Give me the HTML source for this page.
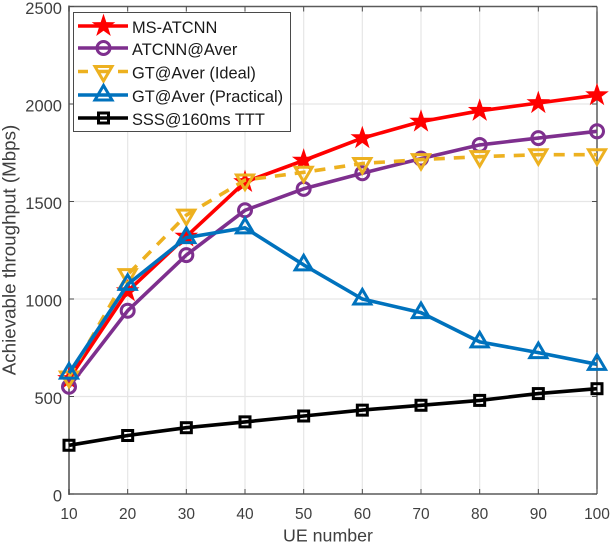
<!DOCTYPE html>
<html>
<head>
<meta charset="utf-8">
<style>
html,body{margin:0;padding:0;background:#fff;}
svg{display:block;}
text{font-family:"Liberation Sans",sans-serif;}
</style>
</head>
<body>
<svg id="chart" width="612" height="544" viewBox="0 0 612 544" xmlns="http://www.w3.org/2000/svg"></svg>
<script>
const categories = [10, 20, 30, 40, 50, 60, 70, 80, 90, 100];
const yTicks = [0, 500, 1000, 1500, 2000, 2500];
const msAtcnn = [590, 1040, 1320, 1600, 1710, 1825, 1910, 1965, 2005, 2045];
const atcnnAver = [550, 940, 1225, 1455, 1565, 1645, 1720, 1790, 1825, 1860];
const gtIdeal = [600, 1125, 1430, 1610, 1650, 1695, 1715, 1730, 1740, 1740];
const gtPractical = [620, 1075, 1315, 1365, 1175, 1000, 930, 780, 725, 665];
const sss = [250, 300, 340, 370, 400, 430, 455, 480, 515, 540];
const seriesNames = ['MS-ATCNN', 'ATCNN@Aver', 'GT@Aver (Ideal)', 'GT@Aver (Practical)', 'SSS@160ms TTT'];

const NS = 'http://www.w3.org/2000/svg';
const svg = document.getElementById('chart');
const L = 69, R = 597, T = 6.5, B = 494;
const xScale = v => L + (v - 10) / 90 * (R - L);
const yScale = v => B - v / 2500 * (B - T);

function mk(tag, attrs, parent) {
  const e = document.createElementNS(NS, tag);
  for (const k in attrs) e.setAttribute(k, attrs[k]);
  (parent || svg).appendChild(e);
  return e;
}

function drawMarker(kind, x, y, color, parent) {
  if (kind === 'star') {
    const pts = [];
    for (let i = 0; i < 10; i++) {
      const r = i % 2 ? 4.8 : 12.4;
      const a = -Math.PI / 2 + i * Math.PI / 5;
      pts.push((x + r * Math.cos(a)).toFixed(1) + ',' + (y + r * Math.sin(a)).toFixed(1));
    }
    return mk('polygon', {points: pts.join(' '), fill: color}, parent);
  }
  if (kind === 'circle') {
    return mk('circle', {cx: x, cy: y, r: 6.5, fill: 'none', stroke: color, 'stroke-width': 3}, parent);
  }
  if (kind === 'down') {
    return mk('polygon', {points: `${x-8.5},${y-5} ${x+8.5},${y-5} ${x},${y+9.5}`, fill: 'none', stroke: color, 'stroke-width': 3}, parent);
  }
  if (kind === 'up') {
    return mk('polygon', {points: `${x-8.5},${y+5} ${x+8.5},${y+5} ${x},${y-9.5}`, fill: 'none', stroke: color, 'stroke-width': 3}, parent);
  }
  return mk('rect', {x: x - 5, y: y - 5, width: 10, height: 10, fill: 'none', stroke: color, 'stroke-width': 3}, parent);
}

// grid
const gridGroup = mk('g', {});


categories.slice(1, -1).forEach(c => {
  mk('line', {x1: xScale(c), x2: xScale(c), y1: T, y2: B, stroke: '#e6e6e6', 'stroke-width': 1.2}, gridGroup);
});
yTicks.slice(1, -1).forEach(v => {
  mk('line', {x1: L, x2: R, y1: yScale(v), y2: yScale(v), stroke: '#e6e6e6', 'stroke-width': 1.2}, gridGroup);
});

// axes
const axesGroup = mk('g', {});


mk('line', {x1: L, x2: L, y1: T - 1, y2: B + 1, stroke: '#7a7a7a', 'stroke-width': 2}, axesGroup);
mk('line', {x1: L, x2: R, y1: B, y2: B, stroke: '#5a5a5a', 'stroke-width': 1.4}, axesGroup);
mk('line', {x1: L, x2: R, y1: T, y2: T, stroke: '#5a5a5a', 'stroke-width': 1.4}, axesGroup);
mk('line', {x1: R, x2: R, y1: T, y2: B, stroke: '#333', 'stroke-width': 1.2}, axesGroup);

categories.forEach(c => {
  const x = xScale(c);
  mk('line', {x1: x, x2: x, y1: B, y2: B - 5, stroke: '#4d4d4d', 'stroke-width': 1}, axesGroup);
  mk('line', {x1: x, x2: x, y1: T, y2: T + 5, stroke: '#4d4d4d', 'stroke-width': 1}, axesGroup);
  const t = mk('text', {x: x, y: 519, 'text-anchor': 'middle', 'font-size': 15.5, fill: '#3f3f3f'}, axesGroup);
  t.textContent = c;
  
  
});
yTicks.forEach(v => {
  const y = yScale(v);
  mk('line', {x1: L, x2: L + 5, y1: y, y2: y, stroke: '#4d4d4d', 'stroke-width': 1}, axesGroup);
  mk('line', {x1: R, x2: R - 5, y1: y, y2: y, stroke: '#4d4d4d', 'stroke-width': 1}, axesGroup);
  const t = mk('text', {x: 62, y: y + 7.5, 'text-anchor': 'end', 'font-size': 16.5, fill: '#3f3f3f'}, axesGroup);
  t.textContent = v;
  
  
});

const xTitle = mk('text', {x: 328, y: 541.5, 'text-anchor': 'middle', 'font-size': 17.8, fill: '#3f3f3f'});
xTitle.textContent = 'UE number';



const yTitle = mk('text', {x: 0, y: 0, transform: 'translate(15.5 250) rotate(-90)', 'text-anchor': 'middle', 'font-size': 18.8, fill: '#3f3f3f'});
yTitle.textContent = 'Achievable throughput (Mbps)';



// series
const seriesValues = [msAtcnn, atcnnAver, gtIdeal, gtPractical, sss];
const colors = ['#ff0000', '#7e2f8e', '#edb120', '#0072bd', '#000000'];
const kinds = ['star', 'circle', 'down', 'up', 'square'];
const dashes = ['', '', '11 9', '', ''];

seriesValues.forEach((vals, s) => {
  const g = mk('g', {});
  
  
  const pts = vals.map((v, i) => xScale(categories[i]).toFixed(1) + ',' + yScale(v).toFixed(1)).join(' ');
  const attrs = {points: pts, fill: 'none', stroke: colors[s], 'stroke-width': 3.6, 'stroke-linejoin': 'round'};
  if (dashes[s]) attrs['stroke-dasharray'] = dashes[s];
  mk('polyline', attrs, g);
  vals.forEach((v, i) => {
    const m = drawMarker(kinds[s], xScale(categories[i]), yScale(v), colors[s], g);
    
    
  });
});

// legend
const legend = mk('g', {});


mk('rect', {x: 73.5, y: 12.5, width: 217, height: 119, fill: '#fff', stroke: '#4a4a4a', 'stroke-width': 1}, legend);
const legendY = [26, 48, 71.5, 95, 118];
seriesNames.forEach((name, s) => {
  const y = legendY[s];
  const e = mk('g', {}, legend);
  
  
  const a = {x1: 78, x2: 128, y1: y, y2: y, stroke: colors[s], 'stroke-width': 3.4};
  if (dashes[s]) a['stroke-dasharray'] = '10 10';
  mk('line', a, e);
  drawMarker(kinds[s], 103.5, y, colors[s], e);
  const t = mk('text', {x: 132, y: y + 7, 'font-size': 16.4, fill: '#1a1a1a'}, e);
  t.textContent = name;
});
</script>
</body>
</html>
